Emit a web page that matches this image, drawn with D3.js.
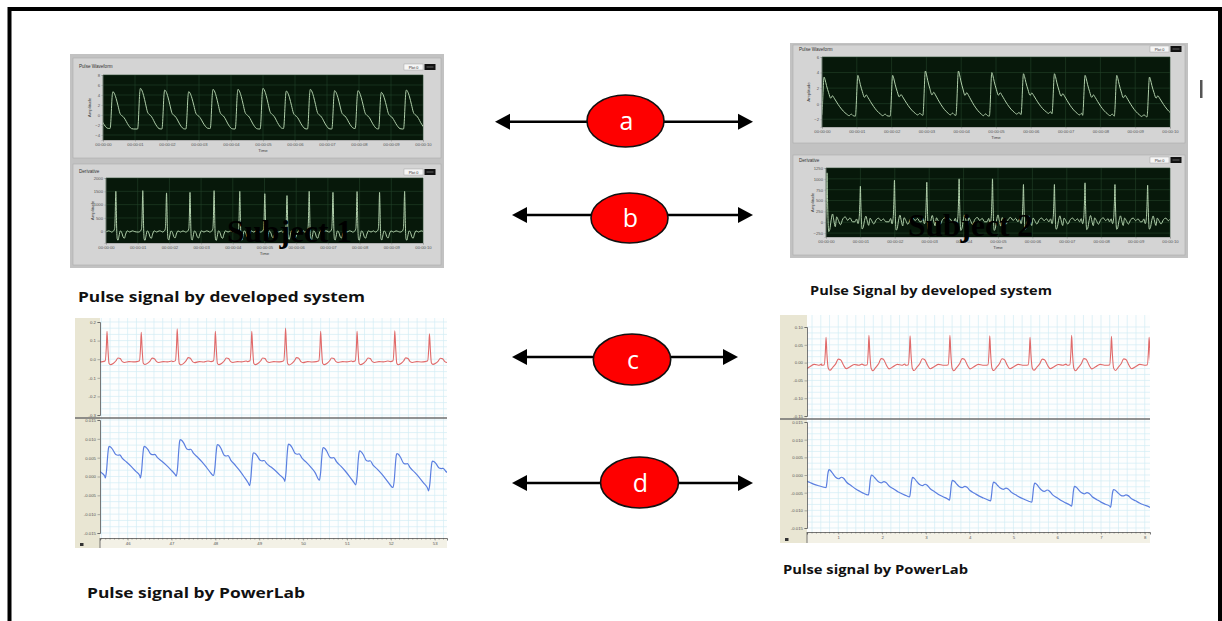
<!DOCTYPE html>
<html><head><meta charset="utf-8">
<script src="https://cdn.jsdelivr.net/npm/d3@7"></script>
<style>body{margin:0;background:#fff}svg{display:block}</style>
</head><body><svg id="c" width="1222" height="621"></svg>
<script>
// ---------------- DATA ----------------
// LabVIEW time axis (seconds) and its labels
const lvTimeTicks = [0,1,2,3,4,5,6,7,8,9,10];
const lvTimeLabels = ["00:00:00","00:00:01","00:00:02","00:00:03","00:00:04","00:00:05","00:00:06","00:00:07","00:00:08","00:00:09","00:00:10"];

// Subject 1 - developed system: pulse waveform (beat peak times, peak levels, trough before each beat + final)
const s1PulseTimes   = [-0.45,0.31,1.17,1.93,2.68,3.44,4.22,5.0,5.73,6.48,7.24,7.97,8.7,9.48,10.24];
const s1PulsePeaks   = [4.9,4.67,5.33,5.0,4.67,5.13,5.13,5.33,4.8,5.13,4.87,4.87,4.53,5.0,4.9];
const s1PulseTroughs = [-2.7,-2.7,-2.8,-2.8,-2.8,-2.7,-2.8,-2.8,-2.7,-2.8,-2.8,-2.7,-2.8,-2.8,-2.7,-2.7];
const s1PulseShape   = [[-0.09,0],[-0.07,0.12],[-0.05,0.45],[-0.03,0.8],[-0.015,0.95],[0,1],[0.04,0.96],[0.1,0.82],[0.16,0.62],[0.22,0.42],[0.27,0.36],[0.32,0.33],[0.38,0.26],[0.45,0.15],[0.52,0.06],[0.58,0.01],[0.65,0]];
const s1PulseYTicks  = [8,6,4,2,0,-2,-4];
// Subject 1 - derivative
const s1DerivTimes = [-0.45,0.31,1.16,1.91,2.65,3.41,4.22,5.01,5.71,6.41,7.16,7.92,8.63,9.42,10.2];
const s1DerivPeaks = [1480,1500,1525,1440,1460,1525,1500,1410,1340,1500,1460,1490,1460,1500,1480];
const s1DerivBase  = [-30,-30,-30,-30,-30,-30,-30,-30,-30,-30,-30,-30,-30,-30,-30,-30];
const s1DerivShape = [[-0.14,0],[-0.08,0.02],[-0.04,0.08],[-0.02,0.4],[-0.008,0.85],[0,1],[0.01,0.75],[0.025,0.15],[0.045,-0.17],[0.07,-0.2],[0.1,-0.1],[0.14,0.03],[0.19,-0.02],[0.23,-0.12],[0.27,-0.15],[0.31,-0.05],[0.36,0.03],[0.44,0.0],[0.52,0.03],[0.6,0.01]];
const s1DerivYTicks = [2000,1500,1000,500,0];

// Subject 2 - developed system: pulse waveform
const s2PulseTimes   = [-0.85,0.06,1.03,2.03,2.97,3.92,4.88,5.79,6.68,7.56,8.47,9.41,10.35];
const s2PulsePeaks   = [3.5,3.42,3.64,3.64,4.2,4.2,4.0,3.85,3.85,3.64,3.64,3.42,3.5];
const s2PulseTroughs = [-1.5,-1.5,-1.6,-1.6,-1.5,-1.5,-1.6,-1.4,-1.3,-1.5,-1.6,-1.7,-1.6,-1.6];
const s2PulseShape   = [[-0.07,0],[-0.05,0.2],[-0.03,0.6],[-0.012,0.92],[0,1],[0.03,0.93],[0.07,0.78],[0.13,0.6],[0.19,0.46],[0.24,0.52],[0.29,0.46],[0.36,0.36],[0.45,0.24],[0.55,0.13],[0.65,0.05],[0.72,0.01],[0.78,0.05],[0.84,0.01],[0.9,0]];
const s2PulseYTicks  = [6,4,2,0,-2];
// Subject 2 - derivative
const s2DerivTimes = [0.03,1.0,1.99,2.93,3.87,4.84,5.74,6.64,7.53,8.4,9.35,10.3];
const s2DerivPeaks = [1138,831,969,923,1000,1000,869,869,908,869,854,900];
const s2DerivBase  = [10,10,10,10,10,10,10,10,10,10,10,10,10];
const s2DerivShape = [[-0.16,0],[-0.11,0.08],[-0.07,-0.05],[-0.035,0.12],[-0.015,0.55],[0,1],[0.012,0.55],[0.03,0.02],[0.05,-0.2],[0.08,-0.16],[0.12,0.04],[0.16,0.16],[0.2,0.02],[0.24,-0.1],[0.28,0.1],[0.33,0.03],[0.39,-0.06],[0.46,0.06],[0.53,0.1],[0.6,0.03],[0.67,0.08],[0.74,0.0]];
const s2DerivYTicks = [1250,1000,750,500,250,0,-250];

// PowerLab subject 1 (time 45.4 .. 53.3 s)
const pl1XTicks = [46,47,48,49,50,51,52,53];
const pl1RedTimes = [44.73,45.53,46.31,47.13,48.0,48.83,49.6,50.4,51.23,52.09,52.88,53.68];
const pl1RedPeaks = [0.15,0.15,0.144,0.164,0.15,0.15,0.168,0.15,0.15,0.153,0.137,0.15];
const pl1RedBase  = [-0.013,-0.013,-0.013,-0.013,-0.013,-0.013,-0.013,-0.013,-0.013,-0.013,-0.013,-0.013,-0.013];
const pl1RedShape = [[-0.1,0],[-0.04,0.03],[-0.015,0.5],[0,1],[0.02,0.45],[0.045,-0.05],[0.08,-0.1],[0.14,-0.06],[0.2,0.02],[0.25,0.12],[0.3,0.1],[0.35,0.0],[0.4,-0.03],[0.5,0.0],[0.6,-0.01],[0.7,0.02]];
const pl1RedTicks = [0.2,0.1,0.0,-0.1,-0.2,-0.3];
const pl1RedLabels = ["0.2","0.1","0.0","-0.1","-0.2","-0.3"];
const pl1BlueTimes = [44.78,45.58,46.38,47.2,48.05,48.87,49.67,50.46,51.29,52.14,52.95];
const pl1BluePeaks = [0.007,0.008,0.008,0.0098,0.0085,0.0063,0.0086,0.0077,0.0068,0.0061,0.0041];
const pl1BlueTroughs = [-0.0005,-0.0004,-0.0004,0.0001,0.0003,-0.0024,-0.0013,-0.001,-0.0022,-0.0029,-0.0038,-0.003];
const pl1BlueShape = [[-0.09,0],[-0.06,0.25],[-0.035,0.7],[-0.015,0.95],[0,1],[0.03,0.98],[0.08,0.9],[0.15,0.74],[0.2,0.72],[0.24,0.73],[0.3,0.62],[0.4,0.5],[0.5,0.37],[0.6,0.22],[0.7,0.06],[0.75,0]];
const plBlueTicks = [0.015,0.010,0.005,0.0,-0.005,-0.010,-0.015];
const plBlueLabels = ["0.015","0.010","0.005","0.000","-0.005","-0.010","-0.015"];

// PowerLab subject 2 (time 0.3 .. 8.1 s)
const pl2XTicks = [1,2,3,4,5,6,7,8];
const pl2RedTimes = [-0.2,0.72,1.70,2.64,3.55,4.46,5.38,6.33,7.24,8.1];
const pl2RedPeaks = [0.074,0.071,0.077,0.075,0.077,0.075,0.071,0.077,0.074,0.071];
const pl2RedBase  = [-0.0075,-0.0075,-0.0075,-0.0075,-0.0075,-0.0075,-0.0075,-0.0075,-0.0075,-0.0075,-0.0075];
const pl2RedShape = [[-0.1,0],[-0.04,0.02],[-0.015,0.5],[0,1],[0.02,0.4],[0.05,-0.1],[0.09,-0.18],[0.15,-0.08],[0.22,0.05],[0.28,0.22],[0.33,0.2],[0.4,0.0],[0.46,-0.12],[0.55,-0.05],[0.65,0.03],[0.75,0.0],[0.82,0.04]];
const pl2RedTicks = [0.10,0.05,0.0,-0.05,-0.10,-0.15];
const pl2RedLabels = ["0.10","0.05","0.00","-0.05","-0.10","-0.15"];
const pl2BlueTimes = [-0.15,0.79,1.76,2.70,3.61,4.55,5.49,6.40,7.29,8.2];
const pl2BluePeaks = [0.0004,0.0015,0.0,-0.0007,-0.0015,-0.002,-0.0023,-0.0032,-0.0041,-0.005];
const pl2BlueTroughs = [-0.003,-0.0036,-0.0056,-0.0062,-0.0071,-0.0073,-0.0077,-0.0088,-0.0091,-0.0092,-0.0095];
const pl2BlueShape = [[-0.07,0],[-0.05,0.3],[-0.03,0.75],[-0.01,0.97],[0,1],[0.04,0.95],[0.09,0.83],[0.15,0.7],[0.22,0.64],[0.28,0.7],[0.33,0.66],[0.4,0.5],[0.5,0.37],[0.6,0.24],[0.7,0.14],[0.8,0.05],[0.88,0]];

// annotation labels and captions
const arrowLabels = ["a","b","c","d"];
const captions = ["Pulse signal by developed system","Pulse Signal by developed system","Pulse signal by PowerLab","Pulse signal by PowerLab"];
const subjectLabels = ["Subject 1","Subject 2"];

// ---------------- DRAWING ----------------
const svg = d3.select("#c");
svg.append("rect").attr("width",1222).attr("height",621).attr("fill","#fff");
const defs = svg.append("defs");
let clipN = 0;
function clipRect(x0,y0,x1,y1){
  const id = "clip"+(clipN++);
  defs.append("clipPath").attr("id",id).append("rect").attr("x",x0).attr("y",y0).attr("width",x1-x0).attr("height",y1-y0);
  return "url(#"+id+")";
}
function beatSeries(times, peaks, lows, shape){
  const pts = [];
  times.forEach((tp,i)=>{
    const nextStart = i < times.length-1 ? times[i+1] + shape[0][0] : Infinity;
    shape.forEach(([dt,s])=>{
      const t = tp + dt;
      if (t >= nextStart) return;
      const base = dt < 0 ? lows[i] : lows[i+1];
      pts.push([t, base + s*(peaks[i]-base)]);
    });
  });
  pts.sort((a,b)=>a[0]-b[0]);
  return pts;
}
const tiny = "Liberation Sans, DejaVu Sans, sans-serif";

// ---- LabVIEW style chart ----
function lvChart(c){
  const g = svg.append("g");
  g.append("rect").attr("x",c.box[0]).attr("y",c.box[1]).attr("width",c.box[2]).attr("height",c.box[3])
    .attr("fill","#d4d4d4").attr("stroke","#ababab").attr("stroke-width",0.6);
  g.append("text").attr("x",c.box[0]+6).attr("y",c.titleY).text(c.title)
    .attr("font-size",4.6).attr("font-family",tiny).attr("fill","#333");
  g.append("rect").attr("x",c.legend[0]).attr("y",c.legend[1]).attr("width",19).attr("height",6)
    .attr("fill","#f6f6f6").attr("stroke","#9a9a9a").attr("stroke-width",0.4);
  g.append("text").attr("x",c.legend[0]+9.5).attr("y",c.legend[1]+4.5).attr("text-anchor","middle")
    .attr("font-size",3.8).attr("font-family",tiny).attr("fill","#333").text("Plot 0");
  g.append("rect").attr("x",c.legend[0]+20.5).attr("y",c.legend[1]).attr("width",11).attr("height",6).attr("fill","#111");
  g.append("line").attr("x1",c.legend[0]+22.5).attr("x2",c.legend[0]+29.5).attr("y1",c.legend[1]+3).attr("y2",c.legend[1]+3)
    .attr("stroke","#9c9c9c").attr("stroke-width",0.6);
  const [x0,y0,x1,y1] = c.plot;
  const x = d3.scaleLinear().domain([0,10]).range([x0,x1]);
  const y = d3.scaleLinear().domain(c.yDomain).range([y1,y0]);
  g.append("rect").attr("x",x0).attr("y",y0).attr("width",x1-x0).attr("height",y1-y0).attr("fill","#07180a");
  g.append("g").selectAll("line").data(lvTimeTicks).join("line")
    .attr("x1",d=>x(d)).attr("x2",d=>x(d)).attr("y1",y0).attr("y2",y1).attr("stroke","#24432a").attr("stroke-width",0.6);
  g.append("g").selectAll("line").data(c.yTicks).join("line")
    .attr("x1",x0).attr("x2",x1).attr("y1",d=>y(d)).attr("y2",d=>y(d)).attr("stroke","#24432a").attr("stroke-width",0.6);
  const line = d3.line().x(d=>x(d[0])).y(d=>y(d[1])).curve(d3.curveMonotoneX);
  g.append("path").datum(c.pts).attr("d",line).attr("fill","none").attr("stroke","#b0cfaa")
    .attr("stroke-width",1.0).attr("clip-path",clipRect(x0,y0,x1,y1));
  const ax = g.append("g").attr("transform",`translate(0,${y1})`)
    .call(d3.axisBottom(x).tickValues(lvTimeTicks).tickFormat((d,i)=>lvTimeLabels[i]).tickSize(1.5).tickPadding(1.5));
  const ay = g.append("g").attr("transform",`translate(${x0},0)`)
    .call(d3.axisLeft(y).tickValues(c.yTicks).tickFormat(d3.format("d")).tickSize(1.5).tickPadding(1.5));
  [ax,ay].forEach(a=>{
    a.selectAll("text").attr("font-size",4.2).attr("font-family",tiny).attr("fill","#555");
    a.selectAll("line").attr("stroke","#777").attr("stroke-width",0.4);
    a.select(".domain").attr("stroke","#777").attr("stroke-width",0.4);
  });
  g.append("text").attr("x",(x0+x1)/2).attr("y",y1+12).attr("text-anchor","middle")
    .attr("font-size",4.4).attr("font-family",tiny).attr("fill","#444").text("Time");
  g.append("text").attr("transform",`translate(${x0-12},${(y0+y1)/2}) rotate(-90)`).attr("text-anchor","middle")
    .attr("font-size",4.4).attr("font-family",tiny).attr("fill","#444").text("Amplitude");
}

// Subject 1 panel
svg.append("rect").attr("x",70).attr("y",54).attr("width",374).attr("height",214).attr("fill","#c2c2c2");
lvChart({box:[73,58,368,100], title:"Pulse Waveform", titleY:68, legend:[404,64],
  plot:[103,75,423,140], yDomain:[-5,8], yTicks:s1PulseYTicks,
  pts:beatSeries(s1PulseTimes,s1PulsePeaks,s1PulseTroughs,s1PulseShape)});
lvChart({box:[73,164,368,101], title:"Derivative", titleY:173, legend:[404,169],
  plot:[106,178,423,243], yDomain:[-440,2000], yTicks:s1DerivYTicks,
  pts:beatSeries(s1DerivTimes,s1DerivPeaks,s1DerivBase,s1DerivShape)});

// Subject 2 panel
svg.append("rect").attr("x",790).attr("y",43).attr("width",398).attr("height",215).attr("fill","#c2c2c2");
lvChart({box:[793,45,392,98], title:"Pulse Waveform", titleY:50.5, legend:[1150,46],
  plot:[822,57,1170,127], yDomain:[-3,6], yTicks:s2PulseYTicks,
  pts:beatSeries(s2PulseTimes,s2PulsePeaks,s2PulseTroughs,s2PulseShape)});
lvChart({box:[793,155,392,100], title:"Derivative", titleY:161.5, legend:[1150,157],
  plot:[826,168,1170,237], yDomain:[-340,1250], yTicks:s2DerivYTicks,
  pts:beatSeries(s2DerivTimes,s2DerivPeaks,s2DerivBase,s2DerivShape)});
svg.append("rect").attr("x",1200).attr("y",80).attr("width",2.5).attr("height",18).attr("fill","#555");

// ---- PowerLab style chart ----
function plChart(c){
  const g = svg.append("g");
  const [px0,py0,px1,py1] = c.plot;
  g.append("rect").attr("x",c.stripX).attr("y",py0).attr("width",px0-c.stripX).attr("height",c.bottom-py0).attr("fill","#e9e6d3");
  g.append("rect").attr("x",px0).attr("y",py1).attr("width",px1-px0).attr("height",c.bottom-py1).attr("fill","#f3f1e6");
  g.append("rect").attr("x",px0).attr("y",py0).attr("width",px1-px0).attr("height",py1-py0).attr("fill","#fdfefe");
  const x = d3.scaleLinear().domain(c.xDomain).range([px0,px1]);
  const yr = d3.scaleLinear().domain(c.redDomain).range(c.redRange);
  const yb = d3.scaleLinear().domain([-0.015,0.015]).range(c.blueRange);
  const gx = d3.range(Math.ceil(c.xDomain[0]*5)/5, c.xDomain[1], 0.2);
  g.append("g").selectAll("line").data(gx).join("line").attr("x1",d=>x(d)).attr("x2",d=>x(d))
    .attr("y1",py0).attr("y2",py1).attr("stroke","#d3edf5").attr("stroke-width",0.7);
  const rs = c.redStep/3;
  const gr = d3.range(c.redDomain[0], c.redDomain[1]+1e-9, rs).map(v=>yr(v)).filter(v=>v>=py0&&v<=c.sepY);
  const gb = d3.range(-0.015, 0.015+1e-9, 0.005/3).map(v=>yb(v)).filter(v=>v>=c.sepY&&v<=py1);
  g.append("g").selectAll("line").data(gr.concat(gb)).join("line").attr("x1",px0).attr("x2",px1)
    .attr("y1",d=>d).attr("y2",d=>d).attr("stroke","#d3edf5").attr("stroke-width",0.7);
  const lr = d3.line().x(d=>x(d[0])).y(d=>yr(d[1])).curve(d3.curveMonotoneX);
  const lb = d3.line().x(d=>x(d[0])).y(d=>yb(d[1])).curve(d3.curveMonotoneX);
  g.append("path").datum(c.redPts).attr("d",lr).attr("fill","none").attr("stroke","#e06a6a").attr("stroke-width",1.1)
    .attr("clip-path",clipRect(px0,py0,px1,c.sepY));
  g.append("path").datum(c.bluePts).attr("d",lb).attr("fill","none").attr("stroke","#5b7fe0").attr("stroke-width",1.2)
    .attr("clip-path",clipRect(px0,c.sepY,px1,py1));
  g.append("line").attr("x1",c.stripX).attr("x2",px1).attr("y1",c.sepY).attr("y2",c.sepY).attr("stroke","#6e6e6e").attr("stroke-width",1.6);
  const style = a=>{
    a.selectAll("text").attr("font-size",4.3).attr("font-family",tiny).attr("fill","#555");
    a.selectAll("line").attr("stroke","#666").attr("stroke-width",0.5);
    a.select(".domain").attr("stroke","#555").attr("stroke-width",0.8);
  };
  style(g.append("g").attr("transform",`translate(${px0},0)`)
    .call(d3.axisLeft(yr).tickValues(c.redTicks).tickFormat((d,i)=>c.redLabels[i]).tickSize(2.5).tickPadding(1.5)));
  style(g.append("g").attr("transform",`translate(${px0},0)`)
    .call(d3.axisLeft(yb).tickValues(plBlueTicks).tickFormat((d,i)=>plBlueLabels[i]).tickSize(2.5).tickPadding(1.5)));
  const minorX = d3.range(Math.ceil(c.xDomain[0]*10)/10, c.xDomain[1], 0.1);
  g.append("g").selectAll("line").data(minorX).join("line").attr("x1",d=>x(d)).attr("x2",d=>x(d))
    .attr("y1",py1).attr("y2",py1+1.6).attr("stroke","#666").attr("stroke-width",0.5);
  style(g.append("g").attr("transform",`translate(0,${py1})`)
    .call(d3.axisBottom(x).tickValues(c.xTicks).tickSize(2.5).tickPadding(1.5)));
  g.append("line").attr("x1",px0).attr("x2",px0).attr("y1",py1).attr("y2",c.bottom).attr("stroke","#555").attr("stroke-width",0.8);
  g.append("rect").attr("x",c.stripX+5).attr("y",c.bottom-5).attr("width",3.5).attr("height",3).attr("fill","#333");
}
plChart({stripX:75, plot:[100,318,447,538], bottom:548, sepY:418, xDomain:[45.37,53.28], xTicks:pl1XTicks,
  redDomain:[-0.3,0.2], redRange:[415,322], redStep:0.1, redTicks:pl1RedTicks, redLabels:pl1RedLabels,
  blueRange:[533,420],
  redPts:beatSeries(pl1RedTimes,pl1RedPeaks,pl1RedBase,pl1RedShape),
  bluePts:beatSeries(pl1BlueTimes,pl1BluePeaks,pl1BlueTroughs,pl1BlueShape)});
plChart({stripX:780, plot:[807,315,1150,532], bottom:543, sepY:419, xDomain:[0.285,8.12], xTicks:pl2XTicks,
  redDomain:[-0.15,0.10], redRange:[416,327], redStep:0.05, redTicks:pl2RedTicks, redLabels:pl2RedLabels,
  blueRange:[528,422],
  redPts:beatSeries(pl2RedTimes,pl2RedPeaks,pl2RedBase,pl2RedShape),
  bluePts:beatSeries(pl2BlueTimes,pl2BluePeaks,pl2BlueTroughs,pl2BlueShape)});

// ---- subject overlay labels (overlap the derivative charts, as in the original) ----
const subjLayout = [[227,242],[908,236]];
svg.selectAll("text.subj").data(subjectLabels).join("text").attr("class","subj")
  .attr("x",(d,i)=>subjLayout[i][0]).attr("y",(d,i)=>subjLayout[i][1])
  .attr("font-family","Liberation Serif, serif").attr("font-weight","bold").attr("font-size",31)
  .attr("textLength",125).attr("lengthAdjust","spacingAndGlyphs").attr("fill","#000").text(d=>d);

// ---- captions ----
const capLayout = [[78,302,15,287],[810,295,13,242],[87,598,15,218],[783,574,13,185]];
svg.selectAll("text.cap").data(captions).join("text").attr("class","cap")
  .attr("x",(d,i)=>capLayout[i][0]).attr("y",(d,i)=>capLayout[i][1])
  .attr("font-size",(d,i)=>capLayout[i][2]).attr("textLength",(d,i)=>capLayout[i][3]).attr("lengthAdjust","spacingAndGlyphs")
  .attr("font-family","Open Sans, Noto Sans, sans-serif").attr("font-weight","bold").attr("fill","#111").text(d=>d);

// ---- double arrows with red ellipses ----
const arrowLayout = [
  {y:121.7, xl:495, xr:753, cx:625.5, cy:121, rx:38.5, ry:26},
  {y:215,   xl:512, xr:753, cx:629.5, cy:218, rx:38.5, ry:25},
  {y:357,   xl:512, xr:738, cx:632,   cy:359.5, rx:38.7, ry:25.5},
  {y:483,   xl:512, xr:753, cx:639.5, cy:482.5, rx:39, ry:25.5}];
const ag = svg.append("g");
arrowLabels.forEach((lab,i)=>{
  const a = arrowLayout[i];
  ag.append("line").attr("x1",a.xl+12).attr("x2",a.xr-12).attr("y1",a.y).attr("y2",a.y).attr("stroke","#000").attr("stroke-width",2.6);
  ag.append("path").attr("d",`M${a.xl},${a.y}L${a.xl+15},${a.y-8}L${a.xl+15},${a.y+8}Z`).attr("fill","#000");
  ag.append("path").attr("d",`M${a.xr},${a.y}L${a.xr-15},${a.y-8}L${a.xr-15},${a.y+8}Z`).attr("fill","#000");
  ag.append("ellipse").attr("cx",a.cx).attr("cy",a.cy).attr("rx",a.rx).attr("ry",a.ry)
    .attr("fill","#fe0000").attr("stroke","#111").attr("stroke-width",1.6);
  ag.append("text").attr("x",a.cx+1).attr("y",a.cy+9).attr("text-anchor","middle")
    .attr("font-family","Open Sans, Noto Sans, sans-serif").attr("font-size",25).attr("fill","#fff").text(lab);
});

// ---- outer frame ----
svg.append("rect").attr("x",9.5).attr("y",9).attr("width",1210.5).attr("height",700)
  .attr("fill","none").attr("stroke","#000").attr("stroke-width",4);
</script></body></html>
